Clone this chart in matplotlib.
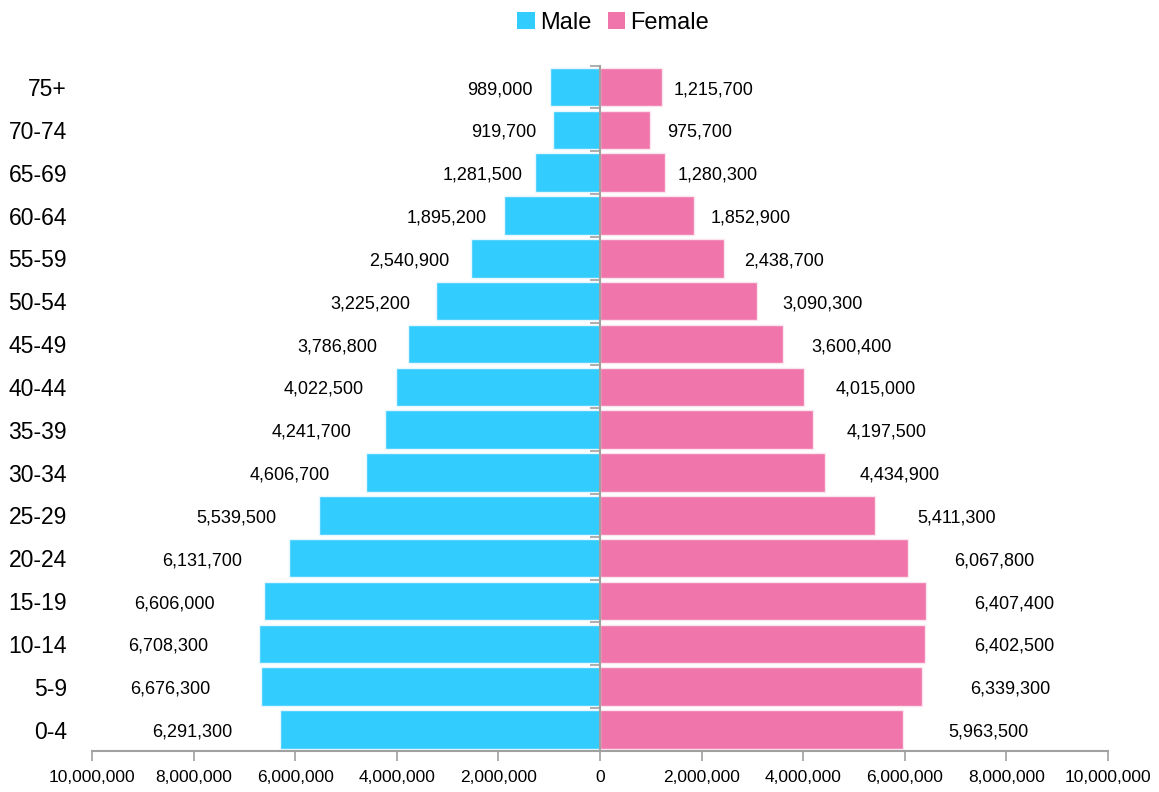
import matplotlib
matplotlib.use("Agg")
import matplotlib.pyplot as plt
from matplotlib.ticker import FuncFormatter, FixedLocator
from matplotlib.patches import Patch

plt.rcParams['font.family'] = ['Liberation Sans', 'DejaVu Sans']

age_groups = ["0-4", "5-9", "10-14", "15-19", "20-24", "25-29", "30-34", "35-39",
              "40-44", "45-49", "50-54", "55-59", "60-64", "65-69", "70-74", "75+"]
male = [6291300, 6676300, 6708300, 6606000, 6131700, 5539500, 4606700, 4241700,
        4022500, 3786800, 3225200, 2540900, 1895200, 1281500, 919700, 989000]
female = [5963500, 6339300, 6402500, 6407400, 6067800, 5411300, 4434900, 4197500,
          4015000, 3600400, 3090300, 2438700, 1852900, 1280300, 975700, 1215700]
x_ticks = [-10000000, -8000000, -6000000, -4000000, -2000000, 0,
           2000000, 4000000, 6000000, 8000000, 10000000]

male_color = "#33CCFF"
female_color = "#F075AA"
axis_gray = "#A0A0A0"

fig = plt.figure(figsize=(11.59, 7.92), dpi=100)
ax = fig.add_axes([0.0794, 0.0518, 0.8766, 0.8654])

y = list(range(len(age_groups)))
ax.barh(y, [-v for v in male], height=0.9, color=male_color,
        edgecolor="#E6F7FF", linewidth=1.0, zorder=1)
ax.barh(y, female, height=0.9, color=female_color,
        edgecolor="#FCE4EF", linewidth=1.0, zorder=1)

# value labels, pushed outward proportionally to the bar length
for yi, m, f in zip(y, male, female):
    ax.text(-(m * 1.14 + 0.85e6), yi - 0.06, f"{m:,}", ha="center", va="center",
            fontsize=13, color="black")
    ax.text(f * 1.14 + 0.85e6, yi - 0.06, f"{f:,}", ha="center", va="center",
            fontsize=13, color="black")

ax.set_xlim(-10000000, 10000000)
ax.set_ylim(-0.5, len(age_groups) - 0.5)

ax.xaxis.set_major_locator(FixedLocator(x_ticks))
ax.xaxis.set_major_formatter(FuncFormatter(lambda v, p: f"{abs(int(v)):,}"))
ax.tick_params(axis="x", direction="out", length=7, width=1.2, color=axis_gray,
               labelsize=12.5, pad=7)

# category labels on the left, tick marks on the centre line
ax.set_yticks(y)
ax.set_yticklabels(age_groups)
ax.set_yticks([i - 0.5 for i in range(len(age_groups) + 1)], minor=True)
ax.tick_params(axis="y", which="major", left=False, right=False, length=0,
               pad=18, labelsize=16.5)
ax.tick_params(axis="y", which="minor", left=False, right=True, direction="in",
               length=7, width=1.2, color=axis_gray)

ax.spines["top"].set_visible(False)
ax.spines["left"].set_visible(False)
ax.spines["right"].set_position(("data", 0))
ax.spines["right"].set_color(axis_gray)
ax.spines["right"].set_linewidth(1.5)
ax.spines["right"].set_zorder(3)
ax.spines["bottom"].set_color(axis_gray)
ax.spines["bottom"].set_linewidth(1.5)

handles = [Patch(facecolor=male_color, label="Male"),
           Patch(facecolor=female_color, label="Female")]
fig.legend(handles=handles, loc="upper center", bbox_to_anchor=(0.529, 1.012),
           ncol=2, frameon=False, fontsize=17, handlelength=0.75, handleheight=0.75,
           handletextpad=0.2, columnspacing=0.7)

fig.savefig("out.png", dpi=100)
